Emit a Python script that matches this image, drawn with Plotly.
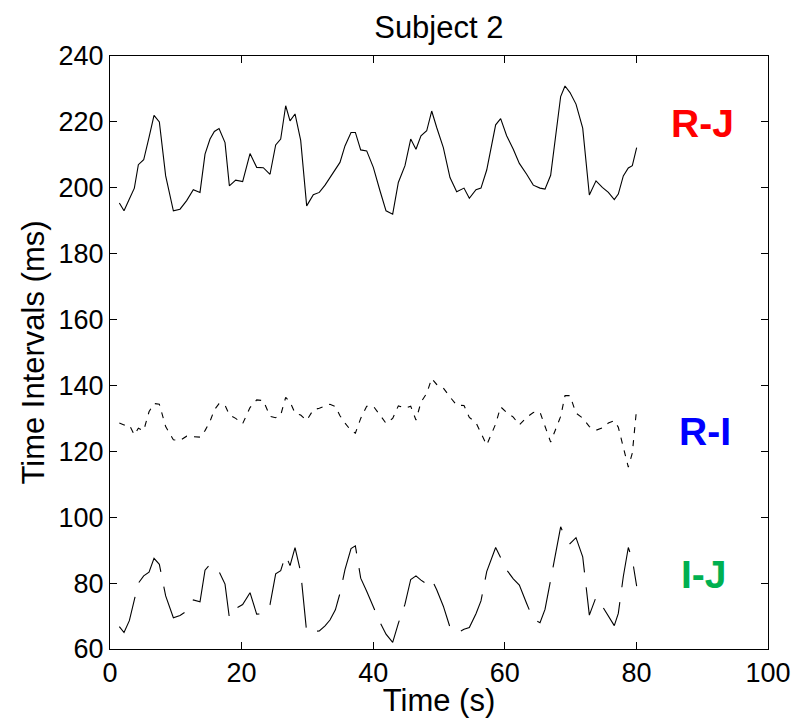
import plotly.graph_objects as go

time_s = [1.42, 2.13, 2.94, 3.70, 4.31, 5.12, 5.93, 6.69, 7.50, 8.46, 9.63, 10.64, 11.65, 12.66, 13.68,
          14.44, 15.20, 15.86, 16.57, 17.48, 18.14, 19.10, 20.16, 21.28, 22.29, 23.30, 24.32, 25.18,
          25.94, 26.70, 27.36, 28.12, 28.98, 29.89, 30.90, 31.81, 32.68, 33.43, 34.25, 34.95, 35.71,
          36.63, 37.29, 38.10, 39.01, 40.02, 41.03, 41.95, 42.96, 43.82, 44.83, 45.70, 46.50, 47.26,
          48.13, 48.89, 49.65, 50.66, 51.67, 52.69, 53.80, 54.61, 55.62, 56.38, 57.25, 58.61, 59.37,
          60.28, 61.29, 62.21, 63.32, 64.33, 65.35, 66.11, 66.97, 68.49, 69.15, 69.91, 70.82, 71.84,
          72.85, 73.86, 74.82, 75.74, 76.64, 77.25, 78.01, 78.77, 79.38, 80.04]

r_j = [195.4, 193.0, 196.6, 199.9, 207.0, 208.5, 215.3, 222.0, 220.0, 203.6, 193.0, 193.5, 196.1, 199.4,
       198.6, 210.2, 214.8, 217.1, 218.0, 213.7, 200.6, 202.3, 201.9, 210.4, 206.2, 206.1, 204.1, 213.0,
       214.8, 224.9, 220.3, 222.4, 214.4, 194.5, 197.9, 198.6, 200.8, 203.1, 205.5, 207.7, 212.7, 216.8,
       216.8, 211.5, 211.2, 206.2, 199.1, 193.0, 192.0, 201.6, 206.7, 214.8, 211.7, 215.8, 217.3, 223.3,
       218.3, 212.2, 203.1, 198.8, 199.9, 196.8, 199.4, 199.9, 205.4, 219.1, 221.0, 215.8, 211.7, 207.4,
       204.1, 200.8, 199.9, 199.6, 203.8, 227.7, 230.9, 228.9, 225.4, 218.1, 197.8, 202.1, 200.1, 198.6,
       196.4, 198.1, 203.6, 206.0, 206.7, 212.2]

r_i = [128.6, 128.0, 128.0, 125.0, 127.0, 126.3, 132.0, 134.5, 134.3, 127.5, 123.5, 123.3, 124.6, 124.5,
       124.3, 126.3, 129.1, 132.6, 134.5, 134.0, 131.1, 130.0, 128.4, 133.3, 135.6, 135.4, 130.6, 130.2,
       131.0, 136.4, 135.0, 131.6, 131.0, 129.4, 132.6, 133.1, 133.8, 134.3, 133.6, 130.8, 128.6, 126.3,
       125.5, 130.0, 133.7, 133.7, 131.0, 128.5, 130.0, 133.8, 133.1, 133.7, 129.5, 134.9, 137.6, 142.1,
       140.3, 139.2, 136.5, 134.0, 133.9, 130.3, 128.7, 125.3, 121.9, 128.3, 133.5, 131.8, 130.4, 128.0,
       130.3, 131.8, 131.9, 127.6, 122.8, 130.6, 136.9, 136.9, 131.6, 130.1, 127.5, 126.4, 127.1, 128.6,
       129.3, 127.3, 121.6, 115.2, 119.5, 133.1]

i_j = [66.8, 65.0, 68.6, 74.9, 80.0, 82.2, 83.3, 87.5, 85.7, 76.1, 69.5, 70.2, 71.5, 74.9,
       74.3, 83.9, 85.7, 84.5, 83.5, 79.7, 69.5, 72.3, 73.5, 77.1, 70.6, 70.7, 73.5, 82.8,
       83.8, 88.5, 85.3, 90.8, 83.4, 65.1, 65.3, 65.5, 67.0, 68.8, 71.9, 76.9, 84.1, 90.5,
       91.3, 81.5, 77.5, 72.5, 68.1, 64.5, 62.0, 67.8, 73.6, 81.1, 82.2, 80.9, 79.7, 81.2,
       78.0, 73.0, 66.6, 64.8, 66.0, 66.5, 70.7, 74.6, 83.5, 90.8, 87.5, 84.0, 81.3, 79.4,
       73.8, 69.0, 68.0, 72.0, 81.0, 97.1, 94.0, 92.0, 93.8, 88.0, 70.3, 75.7, 73.0, 70.0,
       67.1, 70.8, 82.0, 90.8, 87.2, 79.1]

series_names = ["R-J", "R-I", "I-J"]
label_colors = ["#FF0000", "#0000FF", "#00B050"]
label_x = [90.0, 90.4, 90.3]
label_y = [219.5, 126.0, 82.5]

x_ticks = [0, 20, 40, 60, 80, 100]
y_ticks = [60, 80, 100, 120, 140, 160, 180, 200, 220, 240]

FONT = "Arial, 'Liberation Sans', Helvetica, sans-serif"

fig = go.Figure()
fig.add_trace(go.Scatter(x=time_s, y=r_j, mode="lines", name="R-J",
                         line=dict(color="black", width=1.1)))
fig.add_trace(go.Scatter(x=time_s, y=r_i, mode="lines", name="R-I",
                         line=dict(color="black", width=1.1, dash="6px,7px")))
fig.add_trace(go.Scatter(x=time_s, y=i_j, mode="lines", name="I-J",
                         line=dict(color="black", width=1.1, dash="45px,15px")))

for name, col, lx, ly in zip(series_names, label_colors, label_x, label_y):
    fig.add_annotation(x=lx, y=ly, xref="x", yref="y", text="<b>%s</b>" % name,
                       showarrow=False, font=dict(family=FONT, size=39, color=col))

axis_common = dict(showline=True, linecolor="black", linewidth=1, mirror="ticks",
                   ticks="inside", ticklen=7, tickcolor="black", tickwidth=1,
                   showgrid=False, zeroline=False, automargin=False,
                   tickfont=dict(family=FONT, size=27, color="black"))

fig.update_xaxes(range=[0, 100], tickvals=x_ticks, ticktext=[str(v) for v in x_ticks],
                 title=dict(text="Time (s)", font=dict(family=FONT, size=31, color="black"), standoff=2),
                 **axis_common)
fig.update_yaxes(range=[60, 240], tickvals=y_ticks, ticktext=[str(v) for v in y_ticks],
                 title=dict(text="Time Intervals (ms)", font=dict(family=FONT, size=31, color="black"), standoff=4),
                 **axis_common)

fig.update_layout(
    width=795, height=718,
    margin=dict(l=110, r=27, t=56, b=69, autoexpand=False),
    paper_bgcolor="white", plot_bgcolor="white",
    showlegend=False,
    title=dict(text="Subject 2", x=0.552, xanchor="center", y=1 - 27 / 718, yanchor="middle",
               yref="container", font=dict(family=FONT, size=31, color="black")),
)

fig.write_html("out.html")
